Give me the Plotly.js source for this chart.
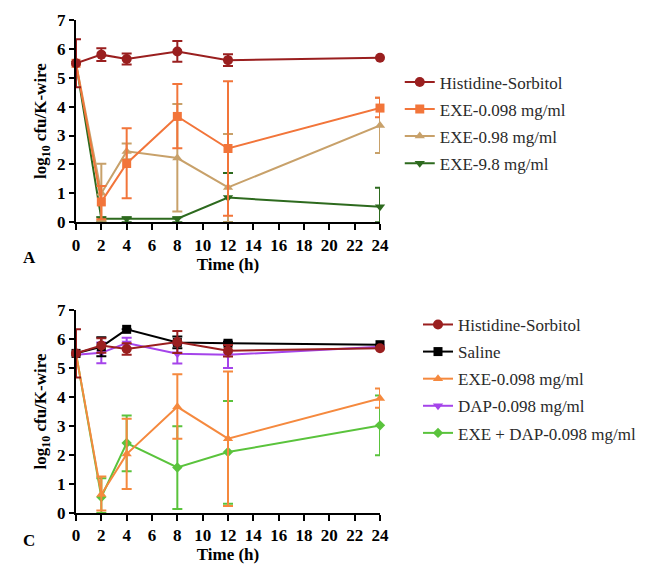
<!DOCTYPE html>
<html>
<head>
<meta charset="utf-8">
<script src="https://cdn.plot.ly/plotly-3.0.1.min.js"></script>
<style>html,body{margin:0;padding:0;background:#fff;}</style>
</head>
<body>
<div id="chart" style="width:654px;height:577px;"></div>
<script>
// Time points (h)
const timeH = [0, 2, 4, 8, 12, 24];
const xTicks = [0, 2, 4, 6, 8, 10, 12, 14, 16, 18, 20, 22, 24];

// Panel A
const histA = [5.50, 5.80, 5.65, 5.91, 5.61, 5.69];
const histAErr = [0.83, 0.22, 0.19, 0.36, 0.20, 0.0];
const exe0098A = [5.50, 0.70, 2.03, 3.66, 2.55, 3.95];
const exe0098AErrUp = [0.0, 0.55, 1.22, 1.12, 2.33, 0.36];
const exe0098AErrDn = [0.0, 0.60, 1.20, 1.10, 2.33, 0.32];
const exe098A = [5.50, 1.00, 2.45, 2.22, 1.20, 3.35];
const exe098AErrUp = [0.0, 1.02, 0.27, 1.87, 1.85, 0.96];
const exe098AErrDn = [0.0, 0.95, 0.27, 1.85, 1.20, 0.96];
const exe98A = [5.50, 0.12, 0.12, 0.12, 0.85, 0.53];
const exe98AErrUp = [0.0, 0.05, 0.05, 0.05, 0.85, 0.66];
const exe98AErrDn = [0.0, 0.12, 0.12, 0.12, 0.85, 0.53];

// Panel C
const histC = [5.50, 5.77, 5.65, 5.89, 5.59, 5.68];
const histCErr = [0.83, 0.25, 0.20, 0.38, 0.20, 0.0];
const salineC = [5.50, 5.73, 6.33, 5.88, 5.85, 5.80];
const salineCErr = [0.0, 0.33, 0.0, 0.20, 0.05, 0.0];
const exe0098C = [5.50, 0.64, 2.03, 3.66, 2.56, 3.95];
const exe0098CErrUp = [0.0, 0.62, 1.22, 1.12, 2.32, 0.34];
const exe0098CErrDn = [0.0, 0.55, 1.20, 1.10, 2.32, 0.32];
const dapC = [5.45, 5.52, 5.86, 5.49, 5.45, 5.73];
const dapCErr = [0.0, 0.36, 0.18, 0.34, 0.45, 0.0];
const comboC = [5.50, 0.55, 2.41, 1.57, 2.10, 3.02];
const comboCErrUp = [0.0, 0.65, 0.95, 1.42, 1.76, 1.03];
const comboCErrDn = [0.0, 0.55, 0.97, 1.43, 1.78, 1.03];

const legendNamesA = ["Histidine-Sorbitol", "EXE-0.098 mg/ml", "EXE-0.98 mg/ml", "EXE-9.8 mg/ml"];
const legendNamesC = ["Histidine-Sorbitol", "Saline", "EXE-0.098 mg/ml", "DAP-0.098 mg/ml", "EXE + DAP-0.098 mg/ml"];

function tr(name, y, up, dn, color, symbol, xa, ya, leg, rank, size) {
  return {
    x: timeH, y: y, name: name, type: 'scatter', mode: 'lines+markers',
    xaxis: xa, yaxis: ya, legend: leg, legendgroup: leg + rank, legendrank: rank,
    line: {color: color, width: 2},
    marker: {color: color, symbol: symbol, size: size || 9},
    cliponaxis: false,
    error_y: {type: 'data', symmetric: false, array: up, arrayminus: dn,
              color: color, thickness: 2, width: 5, visible: true}
  };
}

const cHist = '#9a1f1f';
const cOrangeA = '#f2753a';
const cTan = '#c8a16a';
const cDkGreen = '#2d6a1e';
const cBlack = '#000000';
const cOrangeC = '#f5893e';
const cPurple = '#a544ea';
const cGreen = '#5ac33c';

const data = [
  tr(legendNamesA[3], exe98A, exe98AErrUp, exe98AErrDn, cDkGreen, 'triangle-down', 'x', 'y', 'legend', 4, 9),
  tr(legendNamesA[2], exe098A, exe098AErrUp, exe098AErrDn, cTan, 'triangle-up', 'x', 'y', 'legend', 3, 9),
  tr(legendNamesA[1], exe0098A, exe0098AErrUp, exe0098AErrDn, cOrangeA, 'square', 'x', 'y', 'legend', 2, 9),
  tr(legendNamesA[0], histA, histAErr, histAErr, cHist, 'circle', 'x', 'y', 'legend', 1, 10),

  tr(legendNamesC[4], comboC, comboCErrUp, comboCErrDn, cGreen, 'diamond', 'x2', 'y2', 'legend2', 5, 8),
  tr(legendNamesC[2], exe0098C, exe0098CErrUp, exe0098CErrDn, cOrangeC, 'triangle-up', 'x2', 'y2', 'legend2', 3, 9),
  tr(legendNamesC[3], dapC, dapCErr, dapCErr, cPurple, 'triangle-down', 'x2', 'y2', 'legend2', 4, 9),
  tr(legendNamesC[1], salineC, salineCErr, salineCErr, cBlack, 'square', 'x2', 'y2', 'legend2', 2, 9),
  tr(legendNamesC[0], histC, histCErr, histCErr, cHist, 'circle', 'x2', 'y2', 'legend2', 1, 10)
];

const serif = 'Liberation Serif, Times New Roman, serif';
const tickFont = {family: serif, size: 17, color: '#000', weight: 'bold'};
const titleFont = {family: serif, size: 17, color: '#000', weight: 'bold'};

function xax(anchor) {
  return {
    anchor: anchor, range: [0, 24], tickvals: xTicks, ticktext: xTicks.map(String),
    showline: true, linewidth: 2, linecolor: '#000', ticks: 'outside', ticklen: 6, tickwidth: 2,
    tickcolor: '#000', showgrid: false, zeroline: false,
    tickfont: tickFont,
    title: {text: '<b>Time (h)</b>', font: titleFont, standoff: 4}
  };
}
function yax(anchor, domain) {
  return {
    anchor: anchor, domain: domain, range: [0, 7], dtick: 1, tick0: 0,
    showline: true, linewidth: 2, linecolor: '#000', ticks: 'outside', ticklen: 5, tickwidth: 2,
    tickcolor: '#000', showgrid: false, zeroline: false,
    tickfont: tickFont,
    title: {text: '<b>log<sub>10</sub> cfu/K-wire</b>', font: titleFont, standoff: 6}
  };
}

const legFont = {family: serif, size: 17, color: '#2a2a2a'};

const layout = {
  width: 654, height: 577,
  margin: {l: 76, r: 274, t: 20, b: 64, autoexpand: false},
  paper_bgcolor: '#fff', plot_bgcolor: '#fff',
  showlegend: true,
  xaxis: xax('y'),
  yaxis: yax('x', [0.59, 1]),
  xaxis2: xax('y2'),
  yaxis2: yax('x2', [0, 0.412]),
  legend: {x: 1.065, xanchor: 'left', y: 0.91, yanchor: 'top', font: legFont,
           traceorder: 'grouped', tracegroupgap: 2, itemwidth: 30, bgcolor: 'rgba(0,0,0,0)'},
  legend2: {x: 1.125, xanchor: 'left', y: 0.418, yanchor: 'top', font: legFont,
            traceorder: 'grouped', tracegroupgap: 2, itemwidth: 30, bgcolor: 'rgba(0,0,0,0)'},
  annotations: [
    {text: '<b>A</b>', xref: 'paper', yref: 'paper', x: -0.18, y: 0.518, showarrow: false,
     font: {family: serif, size: 17, color: '#000'}},
    {text: '<b>C</b>', xref: 'paper', yref: 'paper', x: -0.18, y: -0.08, showarrow: false,
     font: {family: serif, size: 17, color: '#000'}}
  ]
};

Plotly.newPlot('chart', data, layout, {displayModeBar: false, staticPlot: true});
</script>
</body>
</html>
